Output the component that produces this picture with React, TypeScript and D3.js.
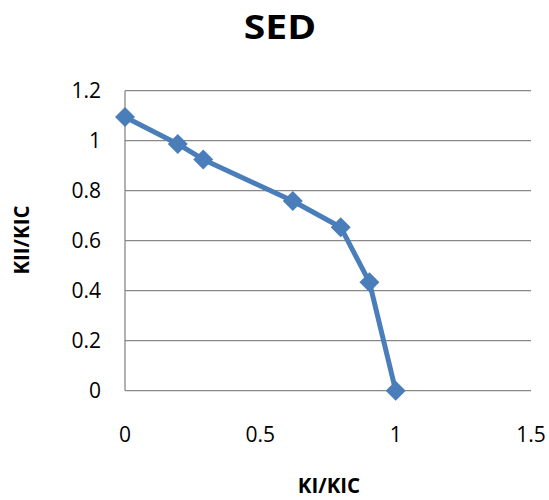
import React from "react";
import * as d3 from "d3";

const xValues = [0, 0.195, 0.289, 0.62, 0.797, 0.903, 1];
const yValues = [1.095, 0.987, 0.925, 0.759, 0.654, 0.434, 0];
const xTicks = [0, 0.5, 1, 1.5];
const yTicks = [0, 0.2, 0.4, 0.6, 0.8, 1, 1.2];
const title = "SED";
const xLabel = "KI/KIC";
const yLabel = "KII/KIC";

export default function App() {
  const W = 549, H = 500;
  const x = d3.scaleLinear().domain([0, 1.5]).range([125, 531]);
  const y = d3.scaleLinear().domain([0, 1.2]).range([390.7, 90.7]);
  const pts = xValues.map((v, i) => [x(v), y(yValues[i])] as [number, number]);
  const line = d3.line()(pts) || "";
  const font = "Open Sans, Liberation Sans, sans-serif";
  const color = "#4a7ebb";
  const ds = 10;
  return (
    <svg width={W} height={H} style={{ position: "absolute", left: 0, top: 0 }}>
      <rect width={W} height={H} fill="#fff" />
      <text transform="translate(280,39) scale(1.15,1)" textAnchor="middle" fontFamily={font} fontWeight="bold" fontSize={34}>{title}</text>
      {yTicks.map((t) => (
        <g key={t}>
          <line x1={x(0)} x2={x(1.5)} y1={y(t)} y2={y(t)} stroke="#888" strokeWidth={1.3} />
          <text x={101} y={y(t) + 7.5} textAnchor="end" fontFamily={font} fontSize={21}>{String(t)}</text>
        </g>
      ))}
      <line x1={x(0)} x2={x(0)} y1={y(0)} y2={y(1.2)} stroke="#888" strokeWidth={1.3} />
      {xTicks.map((t) => (
        <text key={t} x={x(t)} y={442} textAnchor="middle" fontFamily={font} fontSize={21}>{String(t)}</text>
      ))}
      <text x={329} y={493} textAnchor="middle" fontFamily={font} fontWeight="bold" fontSize={20.5}>{xLabel}</text>
      <text transform={`translate(29,240) rotate(-90)`} textAnchor="middle" fontFamily={font} fontWeight="bold" fontSize={20.5}>{yLabel}</text>
      <path d={line} fill="none" stroke={color} strokeWidth={5} strokeLinejoin="round" />
      {pts.map(([px, py], i) => (
        <path key={i} d={`M${px},${py - ds}L${px + ds},${py}L${px},${py + ds}L${px - ds},${py}Z`} fill={color} />
      ))}
    </svg>
  );
}
